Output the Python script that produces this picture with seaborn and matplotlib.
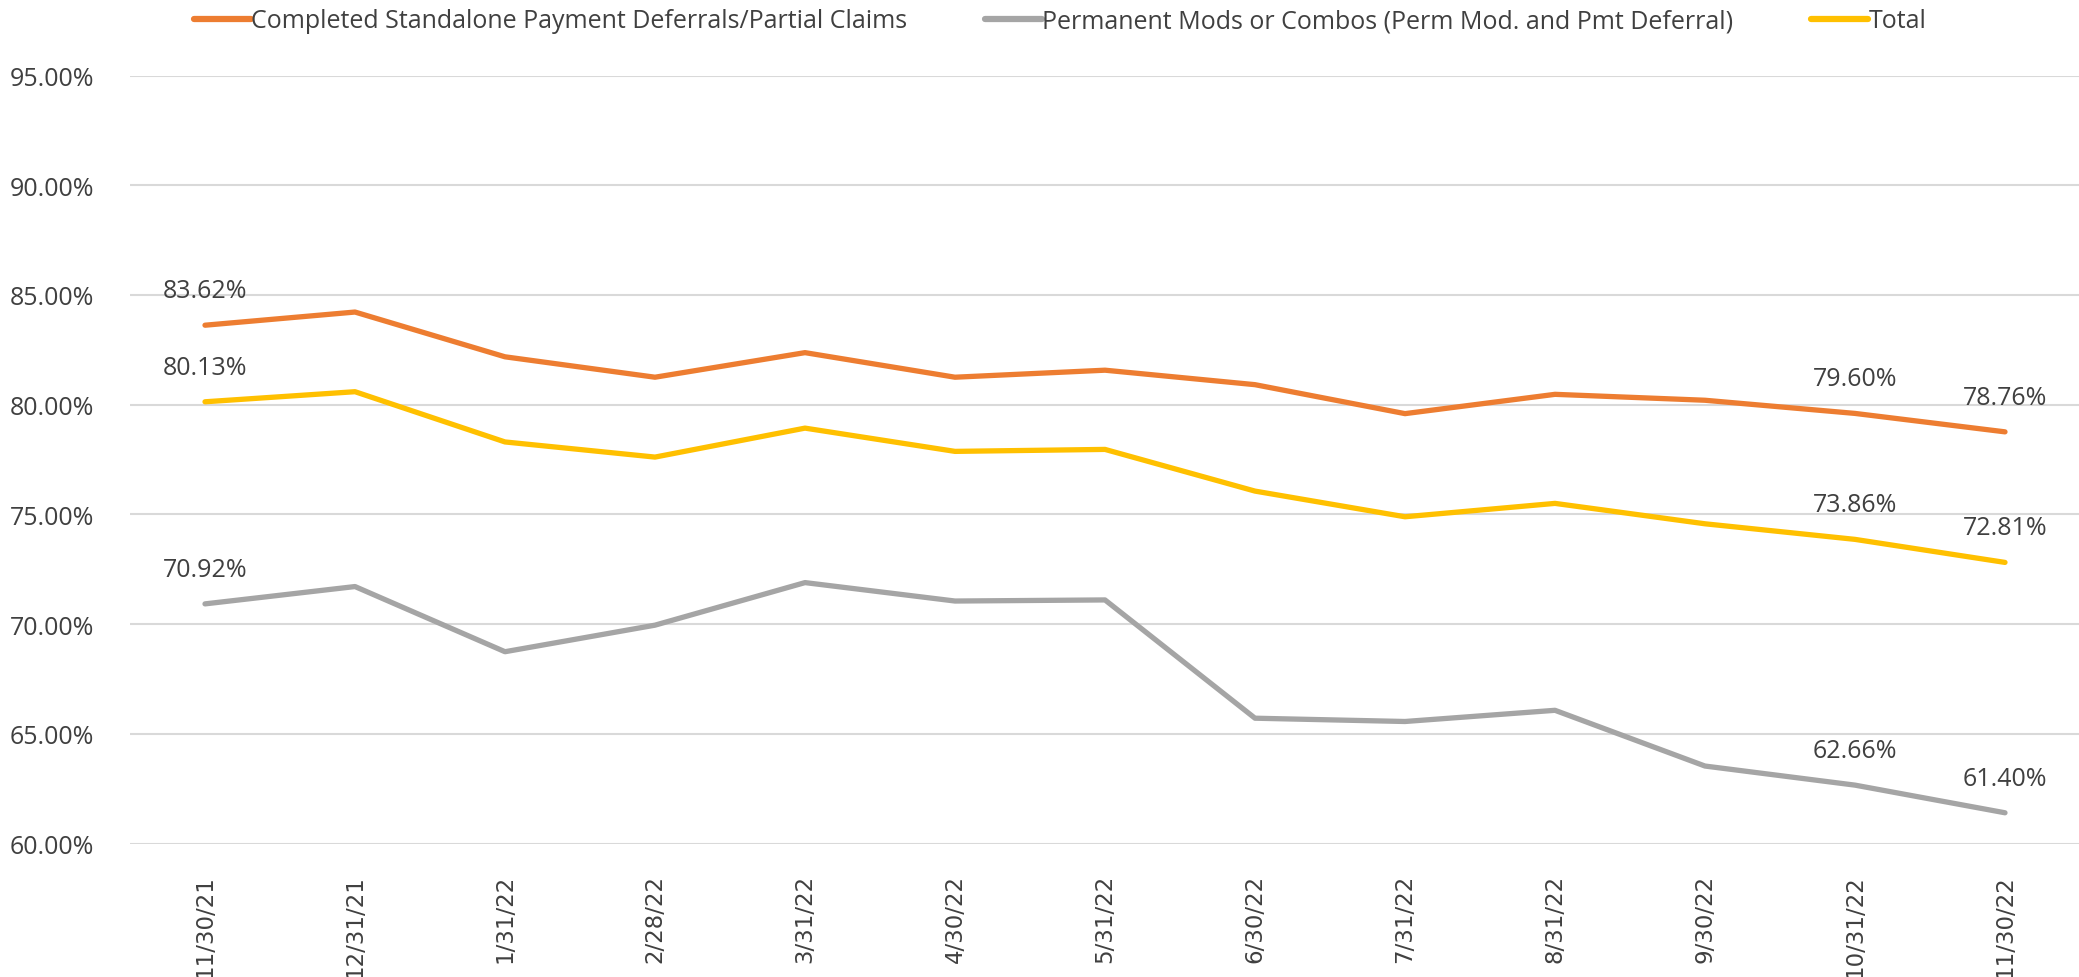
import numpy as np
import pandas as pd
import matplotlib
matplotlib.use("Agg")
import matplotlib.pyplot as plt
import seaborn as sns

# month-end dates on the x axis
dates = ["11/30/21", "12/31/21", "1/31/22", "2/28/22", "3/31/22", "4/30/22", "5/31/22",
         "6/30/22", "7/31/22", "8/31/22", "9/30/22", "10/31/22", "11/30/22"]

series_names = ["Completed Standalone Payment Deferrals/Partial Claims",
                "Permanent Mods or Combos (Perm Mod. and Pmt Deferral)",
                "Total"]

# values in percent
standalone = [83.62, 84.22, 82.18, 81.25, 82.37, 81.25, 81.57, 80.91, 79.59, 80.47, 80.20, 79.60, 78.76]
perm_mods = [70.92, 71.71, 68.74, 69.95, 71.89, 71.05, 71.10, 65.71, 65.56, 66.07, 63.53, 62.66, 61.40]
total = [80.13, 80.59, 78.30, 77.61, 78.93, 77.87, 77.96, 76.06, 74.89, 75.50, 74.57, 73.86, 72.81]

colors = ["#ED7D31", "#A5A5A5", "#FFC000"]
labelled_points = [0, 11, 12]

frames = []
for name, vals in zip(series_names, [standalone, perm_mods, total]):
    frames.append(pd.DataFrame({"pos": np.arange(len(dates)), "value": vals, "series": name}))
df = pd.concat(frames, ignore_index=True)

sns.set_style("white")
plt.rcParams["font.family"] = ["Open Sans", "DejaVu Sans"]
text_color = "#404040"

fig = plt.figure(figsize=(20.79, 9.78), dpi=100)
ax = fig.add_axes([130 / 2079, (978 - 844.5) / 978, 1950 / 2079, (844.5 - 76.5) / 978])

sns.lineplot(data=df, x="pos", y="value", hue="series", hue_order=series_names,
             palette=colors, linewidth=3.8, ax=ax, legend=False, sort=False)

# data labels
for name, vals in zip(series_names, [standalone, perm_mods, total]):
    for i in labelled_points:
        ax.annotate(f"{vals[i]:.2f}%", (i, vals[i]), xytext=(0, 25), textcoords="offset points",
                    ha="center", va="center", fontsize=18, color=text_color)

ax.set_xlim(-0.5, len(dates) - 0.5)
ax.set_ylim(60, 95)
ax.set_yticks(np.arange(60, 96, 5))
ax.set_yticklabels([f"{v:.2f}%" for v in np.arange(60, 96, 5)], fontsize=18, color=text_color)
ax.set_xticks(np.arange(len(dates)))
ax.set_xticklabels(dates, rotation=90, fontsize=16.5, color=text_color,
                   family="DejaVu Sans", va="top", ha="center")
ax.tick_params(axis="y", length=0, pad=26)
ax.tick_params(axis="x", length=0, pad=22)
ax.yaxis.grid(True, color="#D9D9D9", linewidth=1.5)
ax.xaxis.grid(False)
for s in ax.spines.values():
    s.set_visible(False)
ax.set_xlabel("")
ax.set_ylabel("")

handles = [plt.Line2D([0], [0], color=c, linewidth=4.5) for c in colors]
fig.legend(handles, series_names, loc="center", bbox_to_anchor=(1060 / 2079, 1 - 22 / 978),
           ncol=3, frameon=False, fontsize=18, handlelength=2.28, handletextpad=0.02,
           columnspacing=3.1, labelcolor=text_color)

fig.savefig("out.png", dpi=100, facecolor="white")
